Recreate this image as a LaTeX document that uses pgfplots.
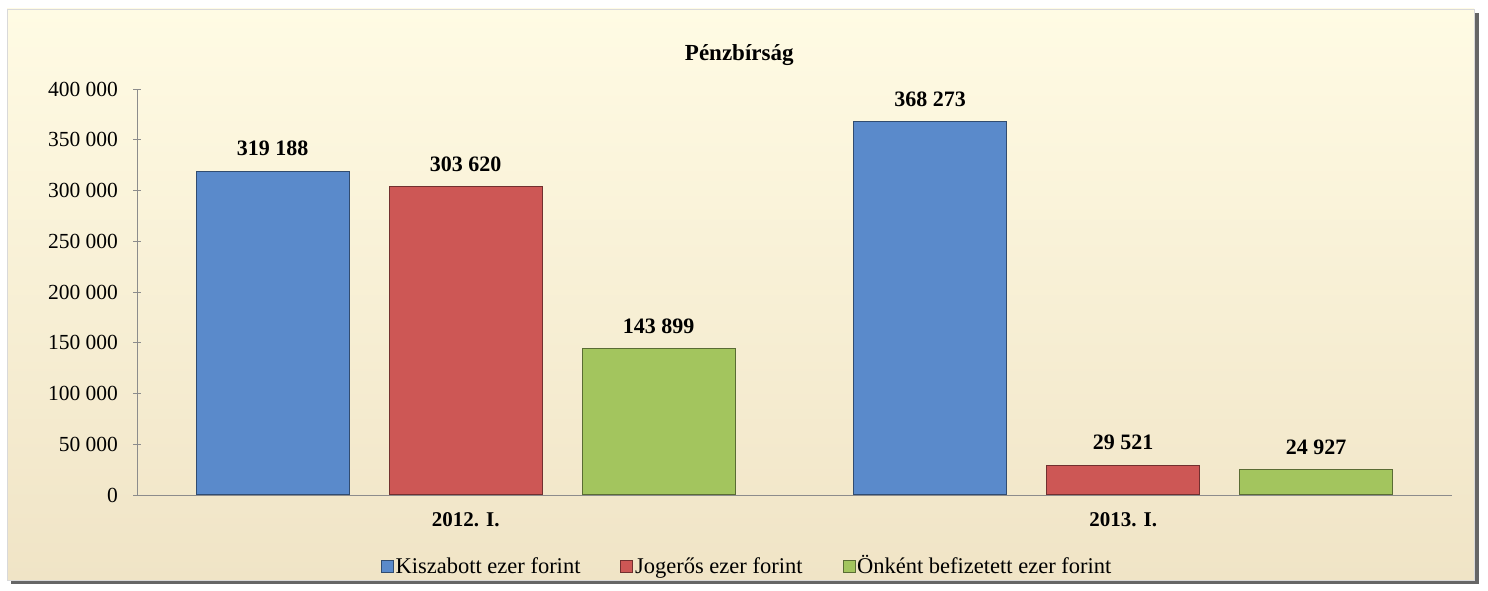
\documentclass[border=0pt]{standalone}
\usepackage{fontspec}
\setmainfont{Liberation Serif}
\usepackage{pgfplots}
\pgfplotsset{compat=1.18}

\definecolor{kiszBlue}{HTML}{5A8ACB}
\definecolor{jogRed}{HTML}{CD5755}
\definecolor{onkGreen}{HTML}{A3C55E}
\definecolor{bgtop}{HTML}{FFFBE4}
\definecolor{bgbot}{HTML}{F0E4C6}
\definecolor{axgray}{HTML}{8C8C8C}

\begin{document}
\begin{tikzpicture}
% frame of the chart area
\fill[white] (0pt,0pt) rectangle (1488pt,591pt);
\fill[black!60] (11pt,7pt) rectangle (1479pt,578pt);
\shade[top color=bgtop, bottom color=bgbot, draw=black!15] (7pt,11pt) rectangle (1474pt,582pt);

\begin{axis}[
    at={(137pt,96pt)}, anchor=south west,
    scale only axis,
    width=1315pt, height=406pt,
    font=\fontsize{21}{24}\selectfont,
    xmin=-0.5, xmax=1.5,
    ymin=0, ymax=400000,
    scaled y ticks=false,
    xtick={0,1},
    xticklabels={2012. I., 2013. I.},
    xticklabel style={font=\fontsize{21}{24}\selectfont\bfseries, yshift=-7pt},
    xtick style={draw=none},
    ytick={0,50000,...,400000},
    yticklabels={0,50 000,100 000,150 000,200 000,250 000,300 000,350 000,400 000},
    yticklabel style={font=\fontsize{21.5}{24}\selectfont, xshift=-12pt},
    ytick style={draw=axgray, line width=0.8pt},
    tick align=outside,
    major tick length=7pt,
    axis x line=bottom, axis y line=left,
    axis line style={draw=axgray, line width=0.9pt, -},
    ybar=40pt, bar width=153pt,
    point meta=explicit symbolic,
    nodes near coords,
    nodes near coords style={font=\fontsize{22}{24}\selectfont\bfseries, yshift=11pt},
    title={Pénzbírság},
    title style={font=\fontsize{23}{26}\selectfont\bfseries, at={(0.458,1.069)}, anchor=base, yshift=-6pt},
    legend columns=3,
    legend style={draw=none, fill=none, at={(0.464,-0.182)}, anchor=center,
        font=\fontsize{22.5}{25}\selectfont,
        nodes={text height=0.8em, text depth=0.25em},
        /tikz/every even column/.append style={column sep=38pt}},
    legend image code/.code={\draw[#1, line width=0.6pt] (0pt,-1pt) rectangle (12pt,11pt);},
    legend cell align=left,
]
\addplot[fill=kiszBlue, draw=kiszBlue!55!black, line width=1pt] coordinates {(0,319188) [319 188] (1,368273) [368 273]};
\addplot[fill=jogRed, draw=jogRed!55!black, line width=1pt] coordinates {(0,303620) [303 620] (1,29521) [29 521]};
\addplot[fill=onkGreen, draw=onkGreen!55!black, line width=1pt] coordinates {(0,143899) [143 899] (1,24927) [24 927]};
\legend{Kiszabott ezer forint, Jogerős ezer forint, Önként befizetett ezer forint}
\end{axis}
\end{tikzpicture}
\end{document}
